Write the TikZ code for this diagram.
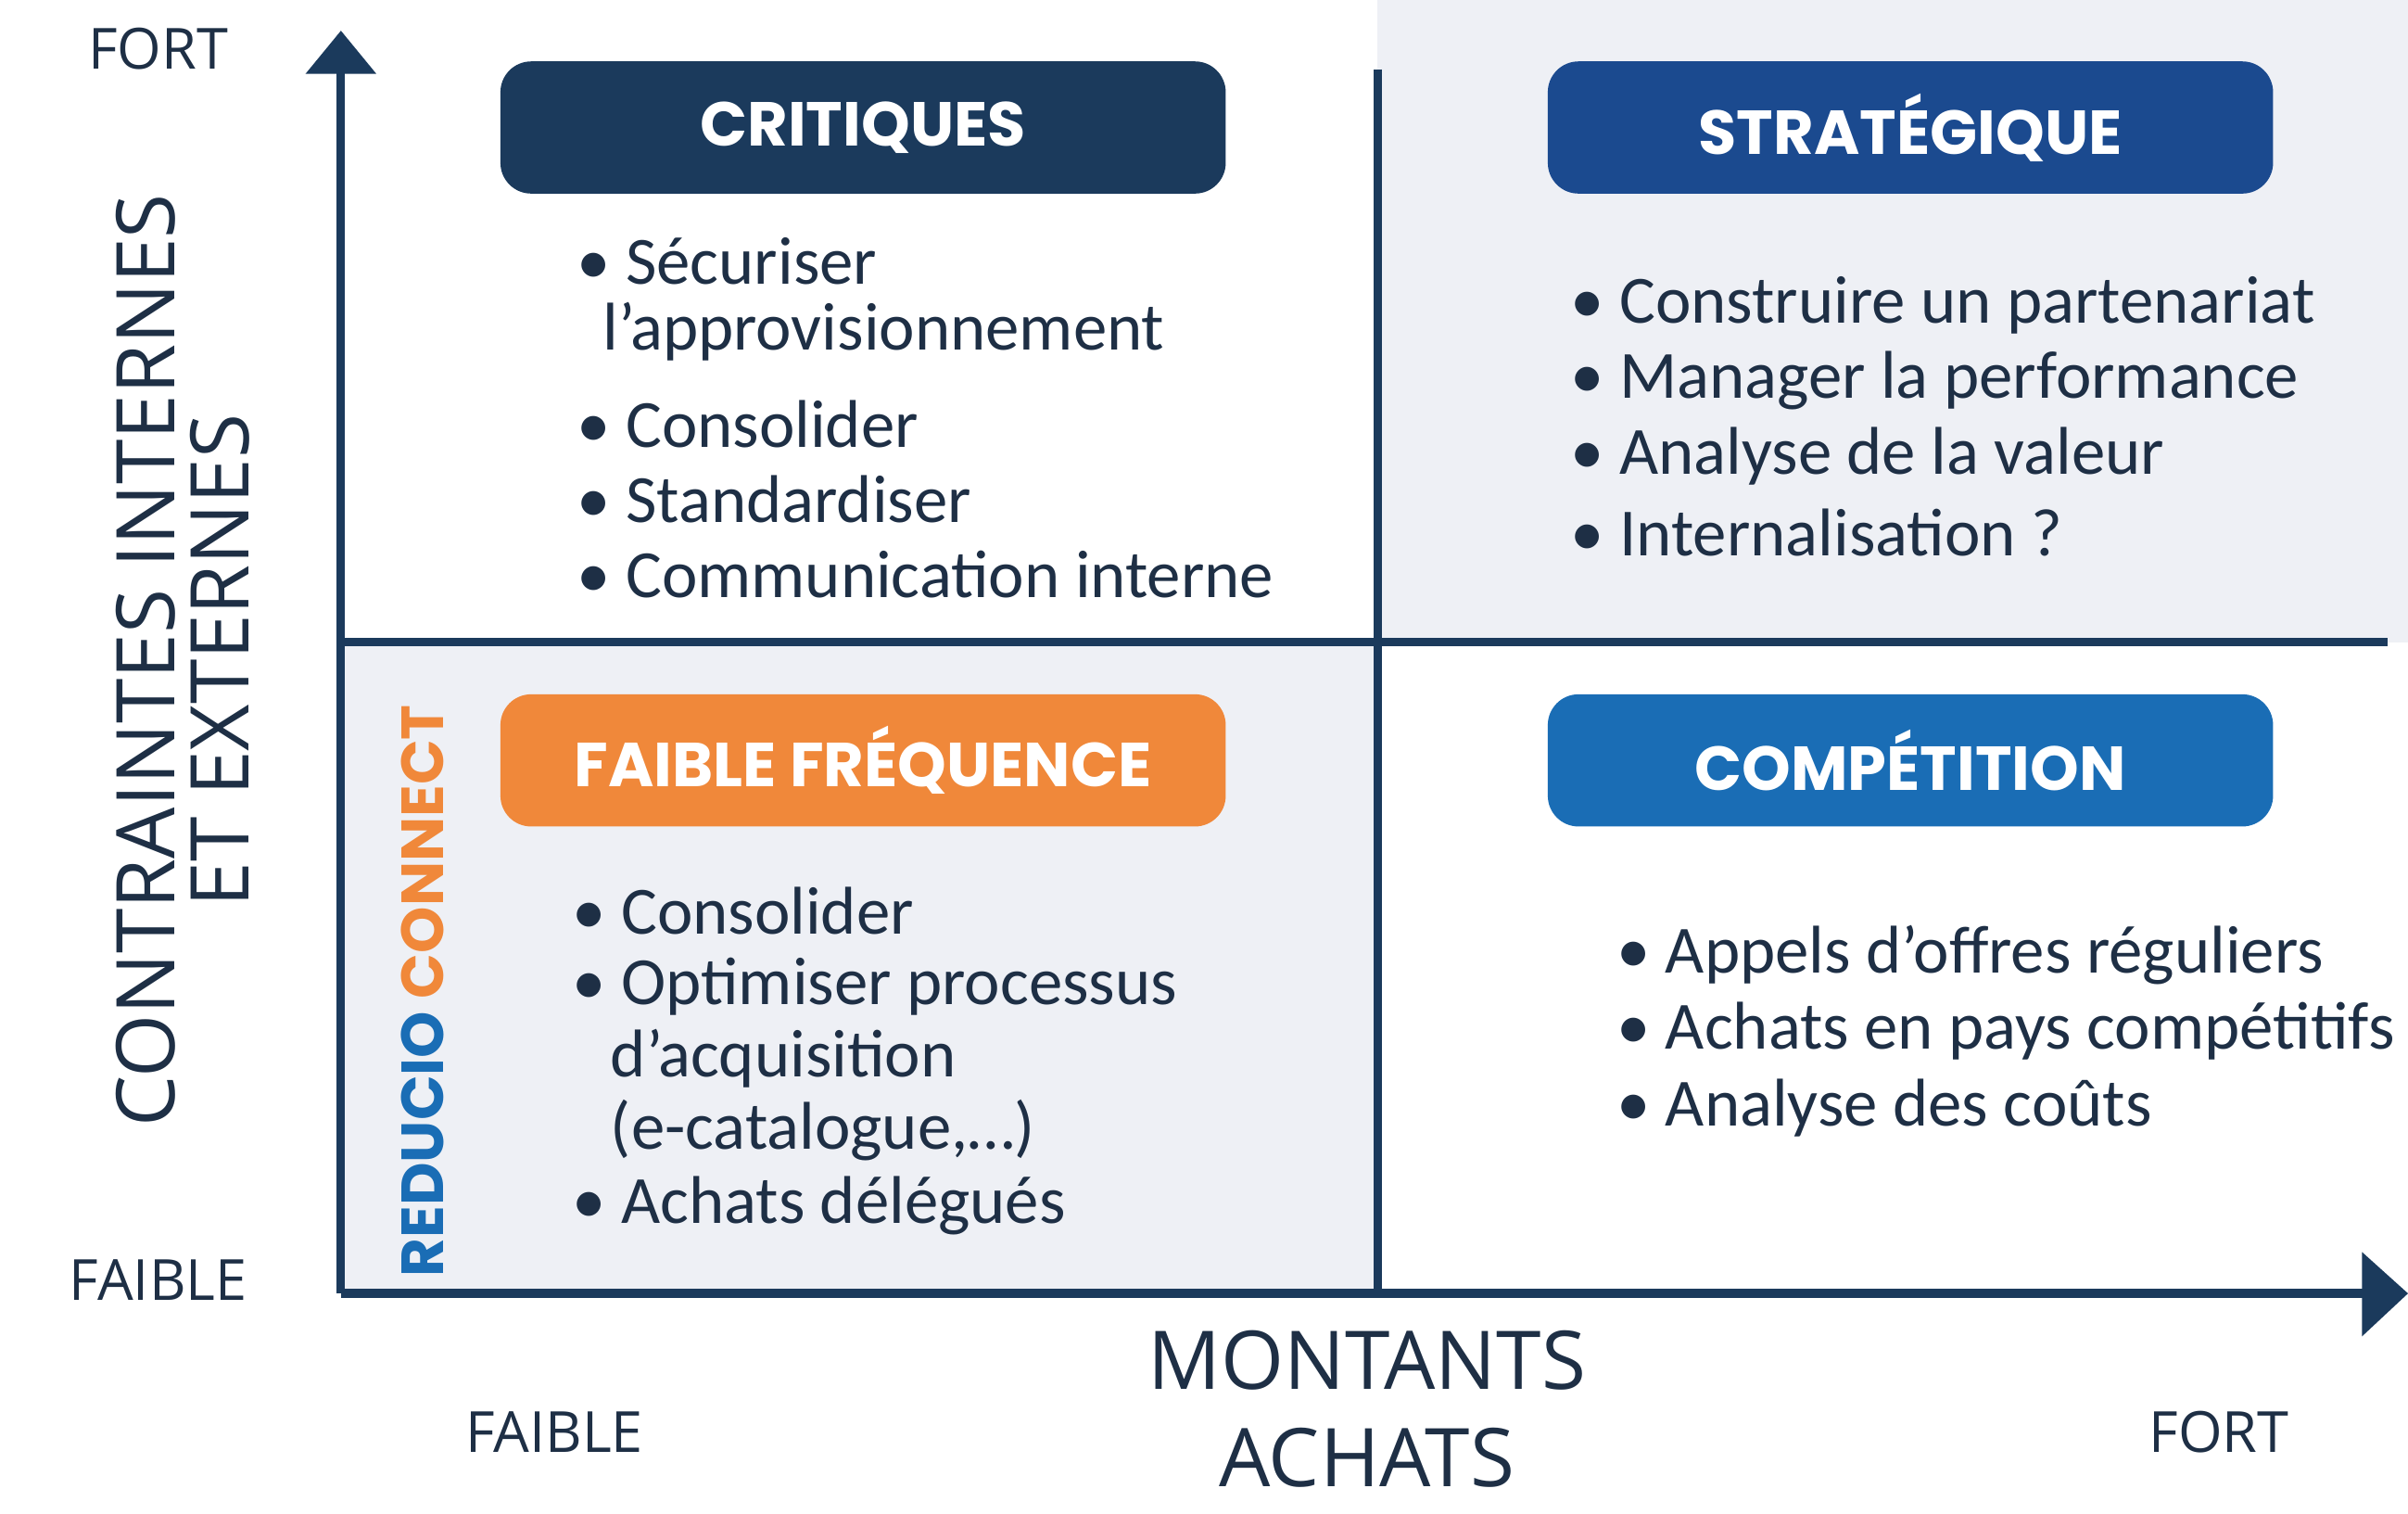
\documentclass[tikz,border=0pt]{standalone}
\usepackage{fontspec}
\setmainfont{Carlito}
\newfontfamily\popb{Poppins}[FontFace={b}{n}{Poppins Bold}]
\newfontfamily\axf{Open Sans}
\definecolor{navy}{HTML}{1B3A5C}
\definecolor{strat}{HTML}{1B4A8F}
\definecolor{orng}{HTML}{F0883A}
\definecolor{comp}{HTML}{1A6DB5}
\definecolor{bgq}{HTML}{EEF0F5}
\definecolor{txt}{HTML}{1E2F45}
\begin{document}
\begin{tikzpicture}[x=0.01cm,y=-0.01cm,
  title/.style={rounded corners=0.2cm,minimum width=4.72cm,minimum height=0.86cm,text=white,font=\popb\bfseries\fontsize{11.5}{12}\selectfont},
  item/.style={anchor=west,text=txt,font=\fontsize{12.5}{14}\selectfont,inner sep=0},
  axl/.style={text=txt,font=\axf\fontsize{10.5}{12}\selectfont},
  line/.style={draw=navy,line width=1.6pt}]
\useasboundingbox (0,0) rectangle (1568,985);
\fill[bgq] (897,0) rectangle (1568,418);
\fill[bgq] (222,418) rectangle (897,842);
\coordinate (o) at (222,842);
\coordinate (yt) at (222,45);
\coordinate (xr) at (1540,842);
\draw[line] (897,45) -- (897,842);
\draw[line] (222,418) -- (1555,418);
\draw[line] (o) -- (yt);
\draw[line] (o) -- (xr);
\fill[navy] (199,48) -- (222,20) -- (245,48) -- cycle;
\fill[navy] (1538,815) -- (1568,842) -- (1538,870) -- cycle;
\node[title,fill=navy] (c) at (562,83) {CRITIQUES};
\node[title,fill=strat] (s) at (1244,83) {STRATÉGIQUE};
\node[title,fill=orng] (f) at (562,495) {FAIBLE FRÉQUENCE};
\node[title,fill=comp] (p) at (1244,495) {COMPÉTITION};
\node[item] (c1) at (375,170) {• Sécuriser};
\node[item] (c2) at (392,216) {l’approvisionnement};
\node[item] (c3) at (375,276) {• Consolider};
\node[item] (c4) at (375,325) {• Standardiser};
\node[item] (c5) at (375,374) {• Communication interne};
\node[item] (s1) at (1022,199) {• Construire un partenariat};
\node[item] (s2) at (1022,248) {• Manager la performance};
\node[item] (s3) at (1022,297) {• Analyse de la valeur};
\node[item] (s4) at (1022,347) {• Internalisation ?};
\node[item] (f1) at (372,593) {• Consolider};
\node[item] (f2) at (372,642) {• Optimiser processus};
\node[item] (f3) at (397,689) {d’acquisition};
\node[item] (f4) at (397,736) {(e-catalogue,…)};
\node[item] (f5) at (372,785) {• Achats délégués};
\node[item] (p1) at (1052,622) {• Appels d’offres réguliers};
\node[item] (p2) at (1052,671) {• Achats en pays compétitifs};
\node[item] (p3) at (1052,721) {• Analyse des coûts};
\node[axl] (l1) at (103,32) {FORT};
\node[axl] (l2) at (103,833) {FAIBLE};
\node[axl] (l3) at (361,932) {FAIBLE};
\node[axl] (l4) at (1445,932) {FORT};
\node[text=txt,font=\axf\fontsize{15}{18}\selectfont,align=center] (mx) at (890,917) {MONTANTS\\ACHATS};
\node[text=txt,font=\axf\fontsize{15}{18}\selectfont,rotate=90] (ya) at (95,430) {CONTRAINTES INTERNES};
\node[text=txt,font=\axf\fontsize{15}{18}\selectfont,rotate=90] (yb) at (143,430) {ET EXTERNES};
\node[rotate=90,font=\popb\bfseries\fontsize{11}{12}\selectfont] (rc) at (275,645) {\textcolor{comp}{REDUCIO} \textcolor{orng}{CONNECT}};
\end{tikzpicture}
\end{document}
